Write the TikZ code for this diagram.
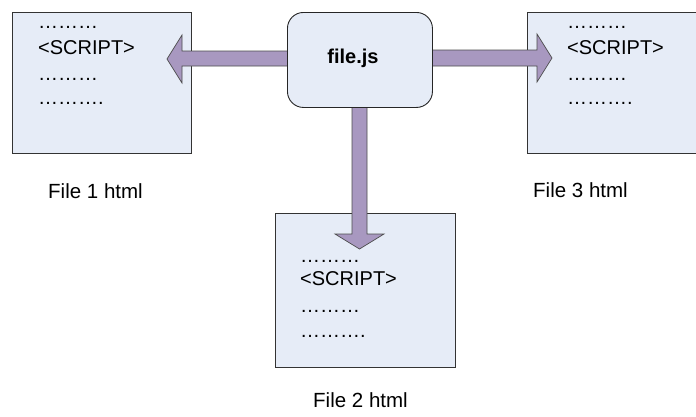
\documentclass[tikz,border=0pt]{standalone}
\usepackage{fontspec}
\setmainfont{Liberation Sans}
\begin{document}
\begin{tikzpicture}[x=1pt,y=-1pt,
  filebox/.style={draw=black!80,line width=0.9pt,fill=boxfill,rectangle,inner sep=0pt,anchor=north west},
  jsbox/.style={draw=black!85,line width=0.9pt,fill=boxfill,rounded corners=16pt,rectangle,inner sep=0pt,anchor=north west,minimum width=145pt,minimum height=95pt},
  bigarrow/.style={draw=black!70,line width=0.7pt,fill=arrowfill,line join=miter},
  txt/.style={anchor=base west,inner sep=0pt,font=\fontsize{20}{24}\selectfont},
  lbl/.style={anchor=base west,inner sep=0pt,font=\fontsize{20.5}{24}\selectfont}]
\definecolor{boxfill}{HTML}{E6ECF7}
\definecolor{arrowfill}{HTML}{A898C0}
\useasboundingbox (0,0) rectangle (696,416);
% boxes
\node[filebox,minimum width=179pt,minimum height=141pt] (f1) at (12,12) {};
\node[filebox,minimum width=173pt,minimum height=141pt] (f3) at (527,12) {};
\node[filebox,minimum width=180pt,minimum height=154pt] (f2) at (275,213) {};
% arrows
\draw[bigarrow] (290,51) -- (182,51) -- (182,35) -- (167,59) -- (182,83) -- (182,66) -- (290,66) -- cycle;
\draw[bigarrow] (430,50) -- (537,50) -- (537,34) -- (552,58) -- (537,82) -- (537,66) -- (430,66) -- cycle;
\draw[bigarrow] (352,105) -- (352,234) -- (335,234) -- (359.5,249) -- (384,234) -- (367,234) -- (367,105) -- cycle;
% js box
\node[jsbox] (jsb) at (287,12) {};
\node[inner sep=0pt,font=\fontsize{20}{24}\selectfont\bfseries] (js) at (353,58) {file.js};
% box 1 text
\node[txt] (a1) at (38,28) {………};
\node[txt] (a2) at (38,54) {<SCRIPT>};
\node[txt] (a3) at (38,80) {………};
\node[txt] (a4) at (38,104) {……….};
% box 3 text
\node[txt] (c1) at (567,28) {………};
\node[txt] (c2) at (567,54) {<SCRIPT>};
\node[txt] (c3) at (567,80) {………};
\node[txt] (c4) at (567,104) {……….};
% box 2 text
\node[txt] (b1) at (300,262) {………};
\node[txt] (b2) at (300,285) {<SCRIPT>};
\node[txt] (b3) at (300,312) {………};
\node[txt] (b4) at (300,337) {……….};
% labels
\node[lbl] (l1) at (48,198) {File 1 html};
\node[lbl] (l3) at (533,197) {File 3 html};
\node[lbl] (l2) at (313,407) {File 2 html};
\end{tikzpicture}
\end{document}
